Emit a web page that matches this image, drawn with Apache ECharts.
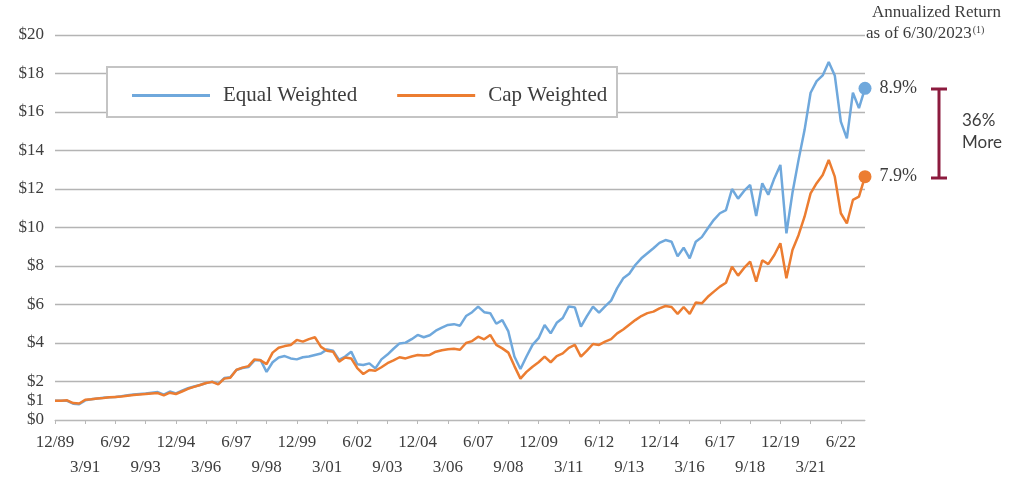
<!DOCTYPE html>
<html>
<head>
<meta charset="utf-8">
<script src="https://cdn.jsdelivr.net/npm/echarts@6/dist/echarts.min.js"></script>
<style>
html,body{margin:0;padding:0;background:#fff;}
#chart{width:1024px;height:491px;}
</style>
</head>
<body>
<div id="chart"></div>
<script>
// Quarterly growth of $1, 12/1989 .. 6/2023
const startYear = 1989, startMonth = 12, quarterCount = 135;
const categories = [];
for (let q = 0; q < quarterCount; q++) {
  const mm = startMonth + 3 * q;
  const y = startYear + Math.floor((mm - 1) / 12);
  const m = ((mm - 1) % 12) + 1;
  categories.push(m + '/' + String(y).slice(2));
}

const equalWeighted = [
  1.0, 1.0, 1.0, 0.85, 0.82, 1.02, 1.08, 1.12, 1.15, 1.18,
  1.2, 1.24, 1.28, 1.32, 1.35, 1.38, 1.42, 1.45, 1.32, 1.48,
  1.38, 1.52, 1.65, 1.74, 1.82, 1.92, 1.99, 1.88, 2.18, 2.22,
  2.6, 2.7, 2.75, 3.1, 3.12, 2.5, 3.0, 3.25, 3.32, 3.2,
  3.15, 3.26, 3.3, 3.38, 3.45, 3.67, 3.6, 3.12, 3.3, 3.55,
  2.9, 2.86, 2.94, 2.68, 3.15, 3.4, 3.7, 3.98, 4.02, 4.2,
  4.42, 4.3, 4.4, 4.64, 4.8, 4.94, 4.98, 4.9, 5.4, 5.6,
  5.89, 5.6, 5.55, 5.0, 5.19, 4.6, 3.3, 2.65, 3.3, 3.9,
  4.25, 4.94, 4.5, 5.05, 5.3, 5.9, 5.85, 4.85, 5.4, 5.89,
  5.58, 5.9, 6.2, 6.85, 7.36, 7.6, 8.05, 8.4, 8.66, 8.92,
  9.2, 9.35, 9.26, 8.5, 8.95, 8.4, 9.26, 9.5, 9.96, 10.4,
  10.74, 10.9, 12.0, 11.5, 11.9, 12.21, 10.6, 12.3, 11.7, 12.55,
  13.25, 9.7, 11.8, 13.5, 15.06, 17.0, 17.6, 17.9, 18.6, 17.9,
  15.5, 14.63, 17.0, 16.2, 17.23
];

const capWeighted = [
  1.0, 1.0, 1.02, 0.88, 0.86, 1.05, 1.08, 1.12, 1.14, 1.18,
  1.2, 1.22, 1.26, 1.3, 1.32, 1.35, 1.38, 1.4, 1.28, 1.42,
  1.35, 1.48, 1.62, 1.72, 1.82, 1.92, 1.98, 1.85, 2.15, 2.2,
  2.6, 2.72, 2.8, 3.15, 3.1, 2.9, 3.5, 3.75, 3.84, 3.9,
  4.16, 4.07, 4.2, 4.3, 3.8, 3.6, 3.55, 3.03, 3.25, 3.2,
  2.7, 2.39, 2.6, 2.56, 2.74, 2.95, 3.1, 3.26, 3.2, 3.3,
  3.38, 3.35, 3.38, 3.55, 3.62, 3.67, 3.7, 3.65, 4.0, 4.1,
  4.33, 4.19, 4.42, 3.9, 3.72, 3.5, 2.8, 2.15, 2.5, 2.77,
  3.0, 3.29, 3.0, 3.32, 3.46, 3.75, 3.9, 3.29, 3.6, 3.95,
  3.9, 4.07, 4.2, 4.5, 4.7, 4.95, 5.19, 5.4, 5.55, 5.63,
  5.8, 5.92, 5.87, 5.51, 5.87, 5.51, 6.1, 6.06, 6.4, 6.67,
  6.93, 7.13, 7.97, 7.5, 7.9, 8.23, 7.19, 8.3, 8.1, 8.57,
  9.18, 7.36, 8.83, 9.6, 10.56, 11.77, 12.3, 12.73, 13.51, 12.64,
  10.74, 10.21, 11.43, 11.6, 12.64
];

const seriesNames = ['Equal Weighted', 'Cap Weighted'];
const annualized = ['8.9%', '7.9%'];
const yTicks = [0, 2, 4, 6, 8, 10, 12, 14, 16, 18, 20];

const BLUE = '#6fa8dc';
const ORANGE = '#ec7d31';
const TEXT = '#3d3d3d';
const SERIF = '"Liberation Serif", "DejaVu Serif", serif';
const SANS = '"Lato", "Noto Sans", sans-serif';

const chart = echarts.init(document.getElementById('chart'));
const last = categories.length - 1;

const labelBase = { color: TEXT, fontFamily: SERIF, fontSize: 17, hideOverlap: false };

chart.setOption({
  animation: false,
  backgroundColor: '#fff',
  grid: { left: 55, right: 159, top: 35, bottom: 71, containLabel: false },
  xAxis: [
    {
      type: 'category', data: categories, boundaryGap: false, position: 'bottom',
      axisLine: { lineStyle: { color: '#b8b8b8', width: 1 } },
      axisTick: { interval: 4, length: 4, lineStyle: { color: '#b8b8b8' } },
      axisLabel: Object.assign({}, labelBase, {
        interval: (i) => i % 10 === 0, showMinLabel: true, margin: 14 }),
      splitLine: { show: false }
    },
    {
      type: 'category', data: categories, boundaryGap: false, position: 'bottom', offset: 0,
      axisLine: { show: false }, axisTick: { show: false },
      axisLabel: Object.assign({}, labelBase, {
        interval: (i) => i % 10 === 5, margin: 39 }),
      splitLine: { show: false }
    }
  ],
  yAxis: [
    {
      type: 'value', min: 0, max: 20, interval: 2,
      axisLine: { show: false }, axisTick: { show: false },
      axisLabel: { color: TEXT, fontFamily: SERIF, fontSize: 17, margin: 11,
        formatter: v => yTicks.indexOf(v) >= 0 ? '$' + v : '' },
      splitLine: { lineStyle: { color: '#b4b4b4', width: 1.3 } }
    },
    {
      type: 'value', min: 0, max: 20, interval: 1, position: 'left',
      axisLine: { show: false }, axisTick: { show: false }, splitLine: { show: false },
      axisLabel: { color: TEXT, fontFamily: SERIF, fontSize: 17, margin: 11,
        formatter: v => v === 1 ? '$1' : '' }
    }
  ],
  legend: {
    left: 127, top: 80,
    icon: 'rect', itemWidth: 78, itemHeight: 3, itemGap: 40,
    data: seriesNames,
    textStyle: { color: TEXT, fontFamily: SERIF, fontSize: 21, padding: [0, 0, 0, 8] },
    z: 5
  },
  series: [
    { name: seriesNames[0], type: 'line', data: equalWeighted, showSymbol: false,
      lineStyle: { color: BLUE, width: 2.5 }, itemStyle: { color: BLUE }, z: 3 },
    { name: seriesNames[1], type: 'line', data: capWeighted, showSymbol: false,
      lineStyle: { color: ORANGE, width: 2.5 }, itemStyle: { color: ORANGE }, z: 4 },
    { type: 'scatter', data: [[categories[last], equalWeighted[last]]], symbolSize: 13,
      itemStyle: { color: BLUE, opacity: 1 }, z: 6,
      label: { show: true, position: 'right', distance: 8, formatter: annualized[0],
        color: TEXT, fontFamily: SERIF, fontSize: 18 } },
    { type: 'scatter', data: [[categories[last], capWeighted[last]]], symbolSize: 13,
      itemStyle: { color: ORANGE, opacity: 1 }, z: 6,
      label: { show: true, position: 'right', distance: 8, formatter: annualized[1],
        color: TEXT, fontFamily: SERIF, fontSize: 18 } }
  ],
  graphic: [
    { type: 'rect', z: 2, shape: { x: 107, y: 67, width: 510, height: 50 },
      style: { fill: '#fff', stroke: '#c4c4c4', lineWidth: 2 } },
    { type: 'text', z: 10, left: 872, top: 4,
      style: { text: 'Annualized Return', fill: TEXT, font: '17px ' + SERIF } },
    { type: 'text', z: 10, left: 866, top: 25,
      style: { text: 'as of 6/30/2023{s|(1)}', fill: TEXT, font: '17px ' + SERIF,
        rich: { s: { fontSize: 10, fontFamily: SERIF, verticalAlign: 'top', padding: [0, 0, 8, 1], fill: TEXT } } } },
    { type: 'line', z: 10, shape: { x1: 939, y1: 89, x2: 939, y2: 178 },
      style: { stroke: '#8c1b3e', lineWidth: 3 } },
    { type: 'line', z: 10, shape: { x1: 931, y1: 89, x2: 947, y2: 89 },
      style: { stroke: '#8c1b3e', lineWidth: 3 } },
    { type: 'line', z: 10, shape: { x1: 931, y1: 178, x2: 947, y2: 178 },
      style: { stroke: '#8c1b3e', lineWidth: 3 } },
    { type: 'text', z: 10, left: 962, top: 110,
      style: { text: '36%\nMore', fill: TEXT, font: '17px ' + SANS, align: 'center', lineHeight: 22, x: 21 } }
  ]
});
</script>
</body>
</html>
